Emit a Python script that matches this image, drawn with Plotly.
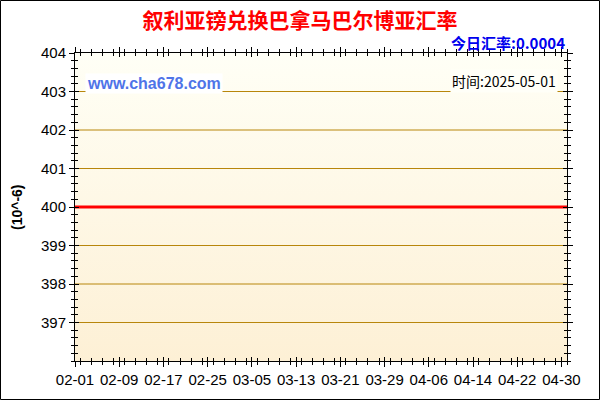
import pandas as pd
import plotly.graph_objects as go

# daily rate, in units of 10^-6
dates = pd.date_range("2025-02-01", "2025-05-01", freq="D")
rates = [
    400, 400, 400, 400, 400, 400, 400, 400, 400, 400,
    400, 400, 400, 400, 400, 400, 400, 400, 400, 400,
    400, 400, 400, 400, 400, 400, 400, 400, 400, 400,
    400, 400, 400, 400, 400, 400, 400, 400, 400, 400,
    400, 400, 400, 400, 400, 400, 400, 400, 400, 400,
    400, 400, 400, 400, 400, 400, 400, 400, 400, 400,
    400, 400, 400, 400, 400, 400, 400, 400, 400, 400,
    400, 400, 400, 400, 400, 400, 400, 400, 400, 400,
    400, 400, 400, 400, 400, 400, 400, 400, 400, 400,
]
y_ticks = [397, 398, 399, 400, 401, 402, 403, 404]
y_range = [396, 404]
x_range = [dates[0], dates[-1]]

title = "叙利亚镑兑换巴拿马巴尔博亚汇率"
today_rate = "今日汇率:0.0004"
date_note = "时间:2025-05-01"
site = "www.cha678.com"

ml, mr, mt, mb = 75, 33, 53, 39
W, H = 600 - ml - mr, 400 - mt - mb
DAY = 86400000
grid_col = "#B8860B"
font = "Liberation Sans, Arial, sans-serif"
cjk = "Noto Sans CJK SC, sans-serif"

fig = go.Figure()

# gradient background of the plot area
fig.add_trace(go.Scatter(
    x=[x_range[0], x_range[1], x_range[1], x_range[0]],
    y=[y_range[1], y_range[1], y_range[0], y_range[0]],
    fill="toself", mode="none", hoverinfo="skip", showlegend=False,
    fillgradient=dict(type="vertical",
                      colorscale=[[0, "#FDF0D5"], [1, "#FFFFF6"]]),
))

# horizontal grid lines (as a trace so they sit above the gradient)
gx, gy = [], []
for v in y_ticks[:-1]:
    gx += [x_range[0], x_range[1], None]
    gy += [v, v, None]
fig.add_trace(go.Scatter(x=gx, y=gy, mode="lines", hoverinfo="skip",
                         line=dict(color=grid_col, width=1), showlegend=False))

# rate line
fig.add_trace(go.Scatter(
    x=dates, y=rates, mode="lines",
    line=dict(color="#FF0000", width=3), showlegend=False,
))

axis_common = dict(showline=True, linecolor="black", linewidth=1,
                   tickcolor="black", zeroline=False, mirror="allticks")

fig.update_layout(
    width=600, height=400,
    margin=dict(l=ml, r=mr, t=mt, b=mb),
    paper_bgcolor="white", plot_bgcolor="rgba(0,0,0,0)",
    title=dict(text="<b>" + title + "</b>", x=0.5, xref="container",
               xanchor="center", y=1 - 21 / 400, yanchor="middle",
               font=dict(family=cjk, size=21, color="#FF0000")),
    xaxis=dict(range=x_range, type="date", tickformat="%m-%d",
               tick0="2025-02-01", dtick=8 * DAY, ticks="outside", ticklen=5,
               showgrid=False,
               minor=dict(dtick=2 * DAY, ticks="outside", ticklen=3,
                          tickcolor="black", showgrid=False),
               tickfont=dict(family=font, size=15, color="black"),
               **axis_common),
    yaxis=dict(range=y_range, tickvals=y_ticks, ticks="outside", ticklen=5,
               showgrid=False,
               minor=dict(dtick=0.2, tick0=396, ticks="outside", ticklen=3,
                          tickcolor="black", showgrid=False),
               tickfont=dict(family=font, size=15, color="black"),
               **axis_common),
    xaxis2=dict(range=x_range, type="date", overlaying="x", anchor="y2",
                tick0="2025-02-01", dtick=8 * DAY, ticks="inside", ticklen=4,
                showticklabels=False, showgrid=False,
                minor=dict(dtick=2 * DAY, ticks="inside", ticklen=3,
                           tickcolor="black", showgrid=False),
                **axis_common),
    yaxis2=dict(range=y_range, overlaying="y", anchor="x2",
                tickvals=y_ticks, ticks="inside", ticklen=4,
                showticklabels=False, showgrid=False,
                minor=dict(dtick=0.2, tick0=396, ticks="inside", ticklen=3,
                           tickcolor="black", showgrid=False),
                **axis_common),
    annotations=[
        dict(text="<b>" + today_rate + "</b>", xref="paper", yref="paper",
             x=1, y=1, xanchor="right", yanchor="bottom", yshift=-2,
             showarrow=False,
             font=dict(family=cjk, size=15, color="#0000EE")),
        dict(text="<b>" + site + "</b>", xref="paper", yref="y",
             x=(85 - ml) / W, y=403, xanchor="left", yanchor="middle",
             yshift=8, showarrow=False, bgcolor="white",
             font=dict(family=font, size=16, color="#4F74E8")),
        dict(text=date_note, xref="paper", yref="y",
             x=(558 - ml) / W, y=403, xanchor="right", yanchor="middle",
             yshift=11, showarrow=False, bgcolor="#FFFFF8",
             font=dict(family=cjk, size=14, color="black")),
        dict(text="<b>(10^-6)</b>", xref="paper", yref="y",
             x=(17 - ml) / W, y=400, xanchor="center", yanchor="middle",
             textangle=-90, showarrow=False,
             font=dict(family=font, size=14, color="black")),
    ],
    shapes=[
        dict(type="rect", xref="paper", yref="paper",
             x0=-(ml - 0.5) / W, x1=1 + (mr - 0.5) / W,
             y0=-(mb - 0.5) / H, y1=1 + (mt - 0.5) / H,
             line=dict(color="black", width=1), layer="above"),
    ],
)

# an x2/y2 dummy so the overlay axes get drawn
fig.add_trace(go.Scatter(x=[x_range[0]], y=[y_range[0]], xaxis="x2",
                         yaxis="y2", mode="markers", marker=dict(opacity=0),
                         hoverinfo="skip", showlegend=False))

fig.write_html("out.html", config={"displayModeBar": False},
               post_script="document.body.style.margin='0px';")
